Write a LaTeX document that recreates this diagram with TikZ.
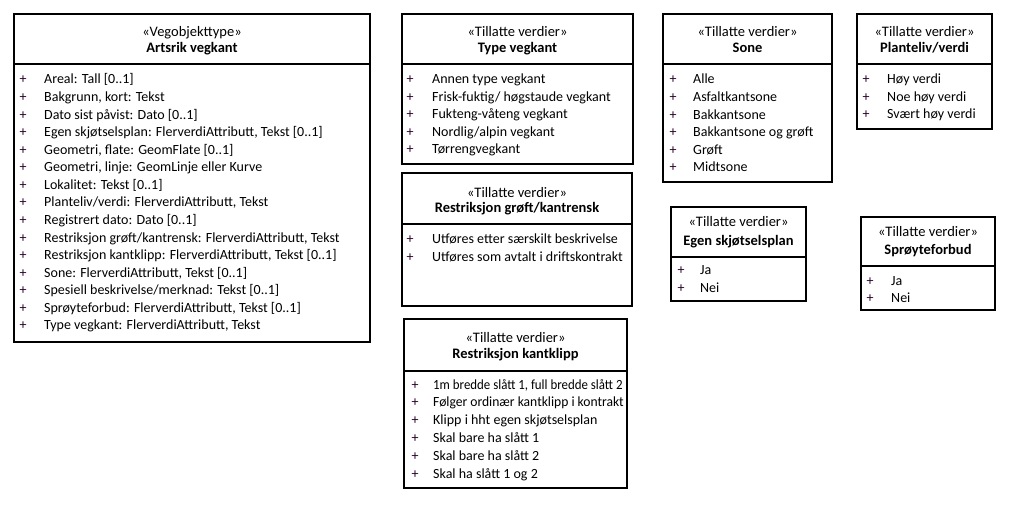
\documentclass[tikz,border=0pt]{standalone}
\usepackage{fontspec}
\setmainfont{Carlito}
\usetikzlibrary{fit}
\definecolor{plusc}{RGB}{40,0,40}
\tikzset{
  umlbox/.style={draw=black, line width=1.1pt, fill=white, inner sep=0pt, outer sep=0pt},
  divline/.style={draw=black, line width=1.1pt},
  txt/.style={anchor=base west, inner sep=0pt, font=\fontsize{14}{17}\selectfont},
  ptxt/.style={anchor=base, inner sep=0pt, text=plusc, font=\fontsize{14}{17}\selectfont},
  htxt/.style={anchor=base, inner sep=0pt, font=\fontsize{14.5}{17}\selectfont},
  btxt/.style={anchor=base, inner sep=0pt, font=\fontsize{14.5}{17}\selectfont\bfseries},
}
% name, x1, y1, x2, y2, ydiv
\newcommand\mkbox[6]{%
  \coordinate (#1nw) at (#2,#3);
  \coordinate (#1se) at (#4,#5);
  \coordinate (#1dl) at (#2,#6);
  \coordinate (#1dr) at (#4,#6);
  \node[umlbox, fit=(#1nw)(#1se)] (#1) {};
  \draw[divline] (#1dl) -- (#1dr);
}
% name, cx, stereo baseline, title baseline, stereo, title
\newcommand\mkhead[6]{%
  \node[htxt] (#1s) at (#2,#3) {«#5»};
  \node[btxt] (#1t) at (#2,#4) {#6};
}
% name, xplus, xtext, first baseline, spacing, list
\newcommand\mkrows[6]{%
  \foreach \t [count=\i] in {#6} {
    \node[ptxt] (#1p\i) at (#2,{#4+#5*(\i-1)}) {+};
    \node[txt] (#1r\i) at (#3,{#4+#5*(\i-1)}) {\t};
  }
}
\begin{document}
\begin{tikzpicture}[x=1pt,y=-1pt]
\path[use as bounding box, fill=white] (0,0) rectangle (1013,505);

\mkbox{a}{14}{14}{370}{342}{64}
\mkhead{a}{192}{37}{53}{Vegobjekttype}{Artsrik vegkant}
\mkrows{a}{23}{44}{84}{17.57}{{Areal: Tall [0..1]},{Bakgrunn, kort: Tekst},{Dato sist påvist: Dato [0..1]},{Egen skjøtselsplan: FlerverdiAttributt, Tekst [0..1]},{Geometri, flate: GeomFlate [0..1]},{Geometri, linje: GeomLinje eller Kurve},{Lokalitet: Tekst [0..1]},{Planteliv/verdi: FlerverdiAttributt, Tekst},{Registrert dato: Dato [0..1]},{Restriksjon grøft/kantrensk: FlerverdiAttributt, Tekst},{Restriksjon kantklipp: FlerverdiAttributt, Tekst [0..1]},{Sone: FlerverdiAttributt, Tekst [0..1]},{Spesiell beskrivelse/merknad: Tekst [0..1]},{Sprøyteforbud: FlerverdiAttributt, Tekst [0..1]},{Type vegkant: FlerverdiAttributt, Tekst}}

\mkbox{b}{402}{14}{633}{164}{64}
\mkhead{b}{517.5}{37}{53}{Tillatte verdier}{Type vegkant}
\mkrows{b}{410}{432}{84}{17.5}{{Annen type vegkant},{Frisk-fuktig/ høgstaude vegkant},{Fukteng-våteng vegkant},{Nordlig/alpin vegkant},{Tørrengvegkant}}

\mkbox{c}{402}{173}{632}{306}{224}
\mkhead{c}{517}{198}{213}{Tillatte verdier}{Restriksjon grøft/kantrensk}
\mkrows{c}{410}{432}{244}{17.3}{{Utføres etter særskilt beskrivelse},{Utføres som avtalt i driftskontrakt}}

\mkbox{d}{404}{319}{627}{488}{371}
\mkhead{d}{515.5}{342}{359}{Tillatte verdier}{Restriksjon kantklipp}
\mkrows{d}{415}{433}{389}{17.8}{{\scalebox{0.92}[1]{1m bredde slått 1, full bredde slått 2}},{\scalebox{0.97}[1]{Følger ordinær kantklipp i kontrakt}},{Klipp i hht egen skjøtselsplan},{Skal bare ha slått 1},{Skal bare ha slått 2},{Skal ha slått 1 og 2}}

\mkbox{e}{663}{14}{832}{182}{64}
\mkhead{e}{747.5}{37}{53}{Tillatte verdier}{Sone}
\mkrows{e}{673}{693}{84}{17.6}{{Alle},{Asfaltkantsone},{Bakkantsone},{Bakkantsone og grøft},{Grøft},{Midtsone}}

\mkbox{f}{857}{14}{992}{129}{64}
\mkhead{f}{924.5}{37}{53}{Tillatte verdier}{Planteliv/verdi}
\mkrows{f}{866}{887}{84}{17.5}{{Høy verdi},{Noe høy verdi},{Svært høy verdi}}

\mkbox{g}{671}{207}{806}{301}{257}
\mkhead{g}{738.5}{227}{246}{Tillatte verdier}{Egen skjøtselsplan}
\mkrows{g}{681}{700}{275}{18}{{Ja},{Nei}}

\mkbox{h}{861}{217}{995}{310}{266}
\mkhead{h}{928}{237}{255}{Tillatte verdier}{Sprøyteforbud}
\mkrows{h}{870}{891}{286}{17}{{Ja},{Nei}}
\end{tikzpicture}
\end{document}
